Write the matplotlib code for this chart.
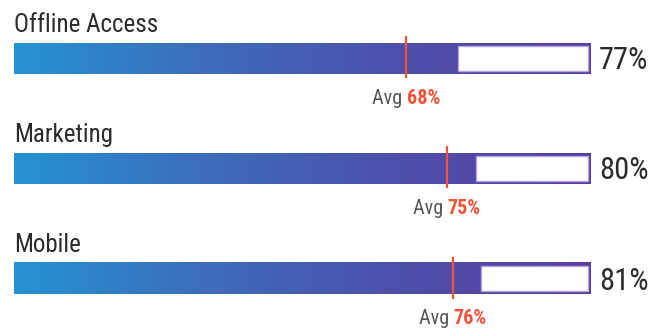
import numpy as np
import matplotlib.pyplot as plt
from matplotlib import font_manager
from matplotlib.colors import LinearSegmentedColormap
from matplotlib.patches import Rectangle
from matplotlib.offsetbox import TextArea, HPacker, AnnotationBbox

categories = ["Offline Access", "Marketing", "Mobile"]
values = [77, 80, 81]
averages = [68, 75, 76]

available = {f.name for f in font_manager.fontManager.ttflist}
FONT = "DejaVu Sans"
for cand in ["Roboto Condensed", "Liberation Sans Narrow", "Roboto", "Lato"]:
    if cand in available:
        FONT = cand
        break
plt.rcParams["font.family"] = [FONT, "DejaVu Sans"]

W, H = 667, 329
fig = plt.figure(figsize=(W / 100, H / 100), dpi=100)
ax = fig.add_axes([0, 0, 1, 1])

# pixel layout: track from x=14 to x=591, rows every 110 px starting at 58.5
px_per_unit = 5.77
ax.set_xlim(-14 / px_per_unit, (W - 14) / px_per_unit)
row_px = 110
ax.set_ylim((H - 58.5) / row_px, -58.5 / row_px)
ax.axis("off")

cmap = LinearSegmentedColormap.from_list("bar", ["#2593d2", "#3d6cbb", "#4d4fab", "#5a3ea4"])
grad = np.linspace(0, 1, 256).reshape(1, -1)
bar_h = 31 / row_px
inset = 3 / row_px
red = "#f2513a"
dark = "#2b2b2b"

for i, (cat, val, avg) in enumerate(zip(categories, values, averages)):
    y0, y1 = i - bar_h / 2, i + bar_h / 2
    ax.imshow(grad, cmap=cmap, aspect="auto", extent=[0, 100, y1, y0],
              interpolation="bilinear", zorder=1)
    ax.add_patch(Rectangle((val, y0 + inset), 100 - val - 0.5, bar_h - 2 * inset,
                           facecolor="white", edgecolor="#b3a6dc", linewidth=1,
                           zorder=2))
    ax.plot([avg, avg], [i - 21 / row_px, i + 19 / row_px], color=red,
            linewidth=1.6, zorder=4)

    ax.text(0, i - 26 / row_px, cat, fontsize=18, color=dark,
            va="baseline", ha="left")
    ax.text(101.4, i + 11 / row_px, f"{val}%", fontsize=22, color=dark,
            va="baseline", ha="left")

    t1 = TextArea("Avg ", textprops=dict(color="#555555", fontsize=14.5,
                                         family=[FONT, "DejaVu Sans"]))
    t2 = TextArea(f"{avg}%", textprops=dict(color=red, fontsize=14.5, fontweight="bold",
                                           family=[FONT, "DejaVu Sans"]))
    box = HPacker(children=[t1, t2], align="baseline", pad=0, sep=0)
    ab = AnnotationBbox(box, (avg, i + 40 / row_px), frameon=False,
                        box_alignment=(0.5, 0.5), pad=0)
    ax.add_artist(ab)

fig.savefig("out.png", dpi=100)
